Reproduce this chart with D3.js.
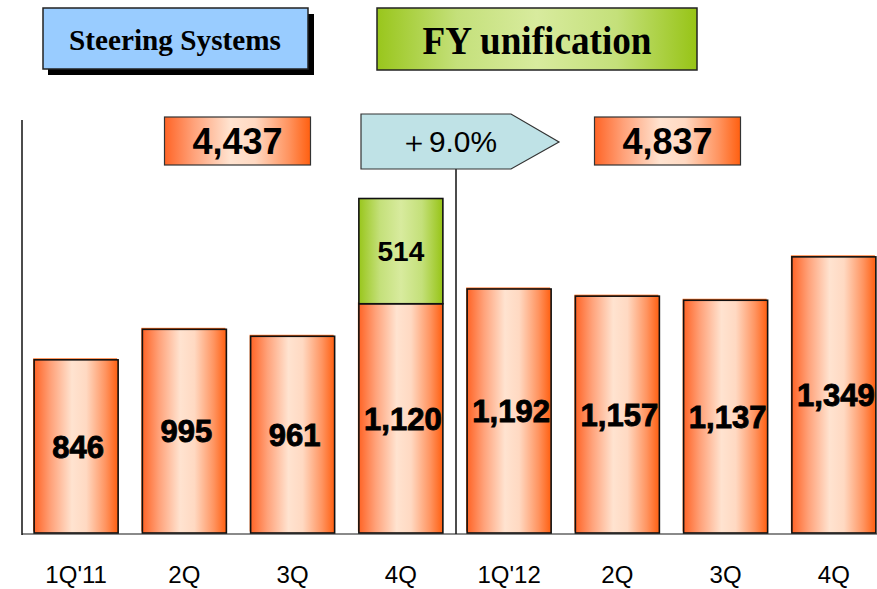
<!DOCTYPE html>
<html>
<head>
<meta charset="utf-8">
<script src="https://cdn.jsdelivr.net/npm/d3@7"></script>
<style>
  body { margin: 0; background: #fff; }
</style>
</head>
<body>
<div id="chart"></div>
<script>
// chart values
const quarters = ["1Q'11", "2Q", "3Q", "4Q", "1Q'12", "2Q", "3Q", "4Q"];
const sales = [846, 995, 961, 1120, 1192, 1157, 1137, 1349];
const unification = [0, 0, 0, 514, 0, 0, 0, 0];
const yearTotals = ["4,437", "4,837"];
const growthLabel = "＋9.0%";

const width = 877, height = 589;
const baseY = 533;

const svg = d3.select("#chart").append("svg")
    .attr("width", width)
    .attr("height", height);

const defs = svg.append("defs");
function hgrad(id, stops) {
  const g = defs.append("linearGradient").attr("id", id)
      .attr("x1", "0%").attr("x2", "100%").attr("y1", "0%").attr("y2", "0%");
  stops.forEach(s => g.append("stop").attr("offset", s[0]).attr("stop-color", s[1]));
}
hgrad("orange", [["0%", "#ff6426"], ["20%", "#ffa27a"], ["45%", "#ffe3d0"], ["62%", "#ffd9c2"], ["85%", "#ff9460"], ["100%", "#ff5f10"]]);
hgrad("green", [["0%", "#99c61c"], ["25%", "#c4e07a"], ["50%", "#d8eb9e"], ["75%", "#c4e07a"], ["100%", "#97c416"]]);

const x = d3.scaleBand()
    .domain(d3.range(quarters.length))
    .range([22, 888])
    .paddingInner(0.224)
    .paddingOuter(0.112);

const y = d3.scaleLinear()
    .domain([0, 2000])
    .range([baseY, baseY - 2000 * 0.2047]);

// axes lines
svg.append("line")
    .attr("x1", 22).attr("x2", width).attr("y1", baseY + 1).attr("y2", baseY + 1)
    .attr("stroke", "#8a8a8a").attr("stroke-width", 2);
svg.append("line")
    .attr("x1", 22).attr("x2", 22).attr("y1", 120).attr("y2", baseY + 2)
    .attr("stroke", "#111").attr("stroke-width", 1.5);

// bars
const bars = svg.append("g");
bars.selectAll("rect.edge")
  .data(sales)
  .enter().append("rect")
    .attr("x", (d, i) => x(i) - 1)
    .attr("y", d => y(d) - 1.5)
    .attr("width", x.bandwidth())
    .attr("height", d => baseY - y(d))
    .attr("fill", "#ff6a1a");
bars.selectAll("rect.bar")
  .data(sales)
  .enter().append("rect")
    .attr("x", (d, i) => x(i))
    .attr("y", d => y(d))
    .attr("width", x.bandwidth())
    .attr("height", d => baseY - y(d))
    .attr("fill", "url(#orange)")
    .attr("stroke", "#111")
    .attr("stroke-width", 1.6);

bars.selectAll("rect.extra")
  .data(unification.map((v, i) => ({v, i})).filter(d => d.v > 0))
  .enter().append("rect")
    .attr("x", d => x(d.i))
    .attr("y", d => y(sales[d.i] + d.v))
    .attr("width", x.bandwidth())
    .attr("height", d => y(sales[d.i]) - y(sales[d.i] + d.v))
    .attr("fill", "url(#green)")
    .attr("stroke", "#111")
    .attr("stroke-width", 1.6);

// value labels
bars.selectAll("text.val")
  .data(sales)
  .enter().append("text")
    .attr("x", (d, i) => x(i) + x.bandwidth() / 2 + 2)
    .attr("y", d => (y(d) + baseY) / 2)
    .attr("dy", "0.36em")
    .attr("text-anchor", "middle")
    .attr("font-family", "Liberation Sans, Arial, sans-serif")
    .attr("font-weight", "bold")
    .attr("font-size", 31)
    .attr("stroke", "#000").attr("stroke-width", 0.9)
    .text(d => d3.format(",")(d));

bars.selectAll("text.extra")
  .data(unification.map((v, i) => ({v, i})).filter(d => d.v > 0))
  .enter().append("text")
    .attr("x", d => x(d.i) + x.bandwidth() / 2)
    .attr("y", d => (y(sales[d.i]) + y(sales[d.i] + d.v)) / 2)
    .attr("dy", "0.36em")
    .attr("text-anchor", "middle")
    .attr("font-family", "Liberation Sans, Arial, sans-serif")
    .attr("font-weight", "bold")
    .attr("font-size", 28)
    .text(d => d.v);

// category labels
svg.selectAll("text.cat")
  .data(quarters)
  .enter().append("text")
    .attr("x", (d, i) => x(i) + x.bandwidth() / 2)
    .attr("y", 583)
    .attr("text-anchor", "middle")
    .attr("font-family", "Liberation Sans, Arial, sans-serif")
    .attr("font-size", 24)
    .text(d => d);

// yearly total boxes
const step = x.step();
const totalCenters = [x(1) + x.bandwidth() / 2 + step / 2 - 1, x(5) + x.bandwidth() / 2 + step / 2 - 4];
totalCenters.forEach((cx, k) => {
  svg.append("rect")
    .attr("x", cx - 73).attr("y", 117)
    .attr("width", 146).attr("height", 48)
    .attr("fill", "url(#orange)")
    .attr("stroke", "#333").attr("stroke-width", 1.2);
  svg.append("text")
    .attr("x", cx).attr("y", 141)
    .attr("dy", "0.36em")
    .attr("text-anchor", "middle")
    .attr("font-family", "Liberation Sans, Arial, sans-serif")
    .attr("font-weight", "bold")
    .attr("font-size", 36)
    .text(yearTotals[k]);
});

// growth arrow and divider
const divX = x(4) - (step - x.bandwidth()) / 2 + 1;
svg.append("line")
    .attr("x1", divX).attr("x2", divX).attr("y1", 169).attr("y2", baseY + 1)
    .attr("stroke", "#111").attr("stroke-width", 1.5);
const ax0 = divX - 95, ax1 = divX + 55, tip = divX + 103;
svg.append("path")
    .attr("d", `M${ax0},114 L${ax1},114 L${tip},142 L${ax1},169 L${ax0},169 Z`)
    .attr("fill", "#bfe2e6")
    .attr("stroke", "#333").attr("stroke-width", 1.2);
svg.append("text")
    .attr("x", divX - 8).attr("y", 142)
    .attr("dy", "0.36em")
    .attr("text-anchor", "middle")
    .attr("font-family", "Liberation Sans, Arial, sans-serif")
    .attr("font-size", 29)
    .attr("textLength", 98)
    .attr("lengthAdjust", "spacingAndGlyphs")
    .text(growthLabel);

// title boxes
svg.append("rect")
    .attr("x", 48).attr("y", 14).attr("width", 266).attr("height", 61)
    .attr("fill", "#000");
svg.append("rect")
    .attr("x", 43).attr("y", 8).attr("width", 265).attr("height", 61)
    .attr("fill", "#99ccff")
    .attr("stroke", "#222").attr("stroke-width", 1.5);
svg.append("text")
    .attr("x", 175).attr("y", 50)
    .attr("text-anchor", "middle")
    .attr("font-family", "Liberation Serif, Times New Roman, serif")
    .attr("font-weight", "bold")
    .attr("font-size", 30)
    .attr("textLength", 212)
    .attr("lengthAdjust", "spacingAndGlyphs")
    .text("Steering Systems");

svg.append("rect")
    .attr("x", 377).attr("y", 8).attr("width", 320).attr("height", 62)
    .attr("fill", "url(#green)")
    .attr("stroke", "#222").attr("stroke-width", 1.5);
svg.append("text")
    .attr("x", 537).attr("y", 54)
    .attr("text-anchor", "middle")
    .attr("font-family", "Liberation Serif, Times New Roman, serif")
    .attr("font-weight", "bold")
    .attr("font-size", 40)
    .attr("textLength", 229)
    .attr("lengthAdjust", "spacingAndGlyphs")
    .text("FY unification");
</script>
</body>
</html>
